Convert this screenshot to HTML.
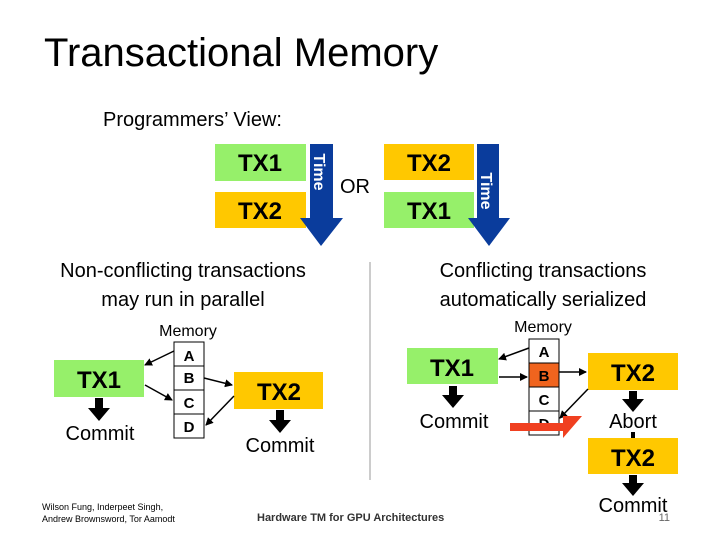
<!DOCTYPE html>
<html><head><meta charset="utf-8"><style>
body{margin:0;background:#fff}
svg text{font-family:"Liberation Sans",sans-serif}
</style></head><body>
<svg width="720" height="540" viewBox="0 0 720 540" xmlns="http://www.w3.org/2000/svg">
<defs><marker id="a" markerWidth="8" markerHeight="8" refX="7" refY="4" orient="auto" markerUnits="userSpaceOnUse"><path d="M0,0 L8,4 L0,8 z" fill="#000"/></marker></defs>
<text x="44" y="66" font-size="40">Transactional Memory</text>
<text x="103" y="126" font-size="20">Programmers’ View:</text>
<!-- top left -->
<rect x="215" y="144" width="91" height="37" fill="#96f06a"/>
<text x="260" y="171" font-size="24" font-weight="bold" text-anchor="middle">TX1</text>
<rect x="215" y="192" width="91" height="36" fill="#ffc800"/>
<text x="260" y="219" font-size="24" font-weight="bold" text-anchor="middle">TX2</text>
<path d="M310,144 H333 V218 H343 L321,246 L300,218 H310 Z" fill="#0a3c9c"/>
<text transform="translate(314,172) rotate(90)" font-size="16" font-weight="bold" fill="#fff" text-anchor="middle">Time</text>
<text x="355" y="193" font-size="20" text-anchor="middle">OR</text>
<rect x="384" y="144" width="90" height="36" fill="#ffc800"/>
<text x="429" y="171" font-size="24" font-weight="bold" text-anchor="middle">TX2</text>
<rect x="384" y="192" width="90" height="36" fill="#96f06a"/>
<text x="429" y="219" font-size="24" font-weight="bold" text-anchor="middle">TX1</text>
<path d="M477,144 H499 V218 H510 L489,246 L468,218 H477 Z" fill="#0a3c9c"/>
<text transform="translate(481,191) rotate(90)" font-size="16" font-weight="bold" fill="#fff" text-anchor="middle">Time</text>
<!-- headings -->
<text x="183" y="277" font-size="20" text-anchor="middle">Non-conflicting transactions</text>
<text x="183" y="306" font-size="20" text-anchor="middle">may run in parallel</text>
<text x="543" y="277" font-size="20" text-anchor="middle">Conflicting transactions</text>
<text x="543" y="306" font-size="20" text-anchor="middle">automatically serialized</text>
<line x1="370" y1="262" x2="370" y2="480" stroke="#999" stroke-width="1"/>
<!-- bottom left -->
<text x="188" y="336" font-size="16" text-anchor="middle">Memory</text>
<g stroke="#000" fill="#fff"><rect x="174" y="342" width="30" height="24"/><rect x="174" y="366" width="30" height="24"/><rect x="174" y="390" width="30" height="24"/><rect x="174" y="414" width="30" height="24"/></g>
<g font-size="15" font-weight="bold" text-anchor="middle"><text x="189" y="361">A</text><text x="189" y="383">B</text><text x="189" y="408">C</text><text x="189" y="432">D</text></g>
<rect x="54" y="360" width="90" height="37" fill="#96f06a"/>
<text x="99" y="388" font-size="24" font-weight="bold" text-anchor="middle">TX1</text>
<path d="M95,398 H103 V408 H110 L99,421 L88,408 H95 Z" fill="#000"/>
<text x="100" y="440" font-size="20" text-anchor="middle">Commit</text>
<rect x="234" y="372" width="89" height="37" fill="#ffc800"/>
<text x="279" y="400" font-size="24" font-weight="bold" text-anchor="middle">TX2</text>
<path d="M276,410 H284 V420 H291 L280,433 L269,420 H276 Z" fill="#000"/>
<text x="280" y="452" font-size="20" text-anchor="middle">Commit</text>
<g stroke="#000" stroke-width="1.5" marker-end="url(#a)"><line x1="174" y1="351" x2="145" y2="365"/><line x1="145" y1="385" x2="172" y2="400"/><line x1="204" y1="378" x2="232" y2="385"/><line x1="234" y1="396" x2="206" y2="425"/></g>
<!-- bottom right -->
<text x="543" y="332" font-size="16" text-anchor="middle">Memory</text>
<g stroke="#000"><rect x="529" y="339" width="30" height="24" fill="#fff"/><rect x="529" y="363" width="30" height="24" fill="#f0641e"/><rect x="529" y="387" width="30" height="24" fill="#fff"/><rect x="529" y="411" width="30" height="24" fill="#fff"/></g>
<g font-size="15" font-weight="bold" text-anchor="middle"><text x="544" y="357">A</text><text x="544" y="381">B</text><text x="544" y="405">C</text><text x="544" y="429">D</text></g>
<rect x="407" y="348" width="91" height="36" fill="#96f06a"/>
<text x="452" y="376" font-size="24" font-weight="bold" text-anchor="middle">TX1</text>
<path d="M449,386 H457 V395 H464 L453,408 L442,395 H449 Z" fill="#000"/>
<text x="454" y="428" font-size="20" text-anchor="middle">Commit</text>
<rect x="588" y="353" width="90" height="37" fill="#ffc800"/>
<text x="633" y="381" font-size="24" font-weight="bold" text-anchor="middle">TX2</text>
<path d="M629,391 H637 V399 H644 L633,412 L622,399 H629 Z" fill="#000"/>
<text x="633" y="428" font-size="20" text-anchor="middle">Abort</text>
<rect x="631" y="432" width="4" height="6" fill="#000"/>
<rect x="588" y="438" width="90" height="36" fill="#ffc800"/>
<text x="633" y="466" font-size="24" font-weight="bold" text-anchor="middle">TX2</text>
<path d="M629,475 H637 V483 H644 L633,496 L622,483 H629 Z" fill="#000"/>
<text x="633" y="512" font-size="20" text-anchor="middle">Commit</text>
<g stroke="#000" stroke-width="1.5" marker-end="url(#a)"><line x1="529" y1="348" x2="499" y2="359"/><line x1="499" y1="377" x2="527" y2="377"/><line x1="559" y1="372" x2="586" y2="372"/><line x1="588" y1="389" x2="560" y2="418"/></g>
<path d="M510,423 H563 V416 H582 L563,438 V431 H510 Z" fill="#f04020"/>
<!-- footer -->
<text x="42" y="510" font-size="9">Wilson Fung, Inderpeet Singh,</text>
<text x="42" y="522" font-size="9">Andrew Brownsword, Tor Aamodt</text>
<text x="257" y="521" font-size="11" font-weight="bold" fill="#333">Hardware TM for GPU Architectures</text>
<text x="670" y="521" font-size="11" fill="#666" text-anchor="end">11</text>
</svg>
</body></html>
